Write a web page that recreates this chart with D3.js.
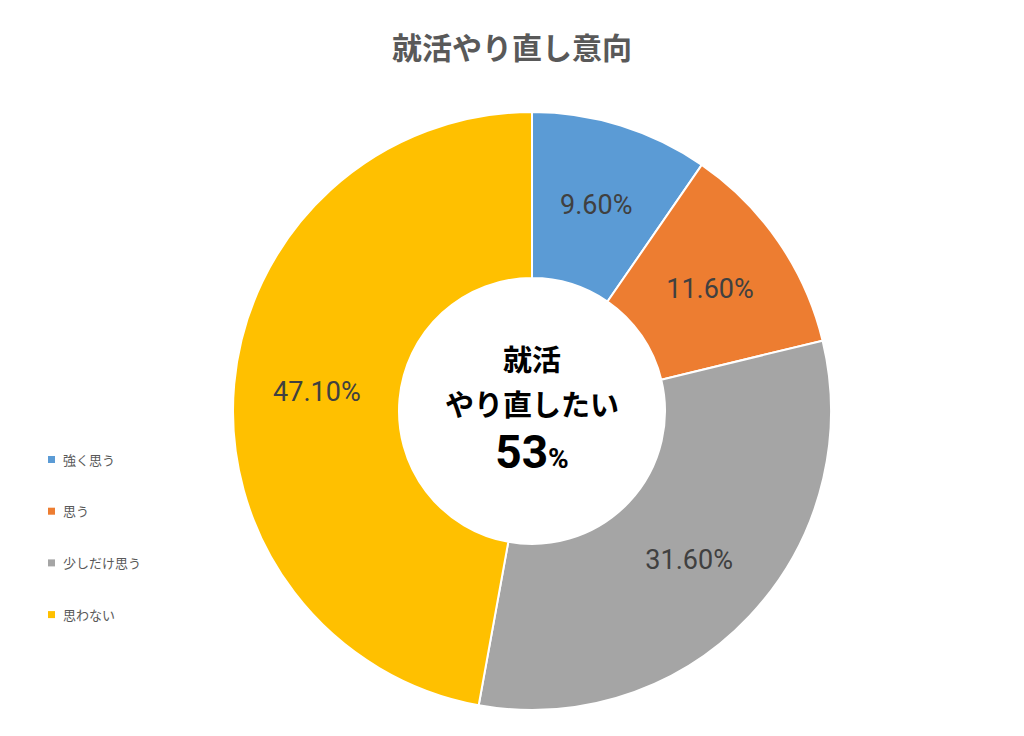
<!DOCTYPE html>
<html><head><meta charset="utf-8">
<script src="https://cdn.jsdelivr.net/npm/d3@7"></script>
<style>body{margin:0;background:#fff}svg{display:block;font-family:"Noto Sans CJK JP","Noto Sans",sans-serif}</style>
</head><body>
<svg id="c" width="1024" height="736"></svg>
<script>
const categories = ["強く思う","思う","少しだけ思う","思わない"];
const values = [9.6, 11.6, 31.6, 47.1];
const valueLabels = ["9.60%","11.60%","31.60%","47.10%"];
const colors = ["#5B9BD5","#ED7D31","#A5A5A5","#FFC000"];
const title = "就活やり直し意向";
const centerLines = ["就活","やり直したい"];
const centerValue = "53";

const svg = d3.select("#c");
const cx = 532, cy = 411, R = 299, r = 133;
svg.append("text").attr("x",512).attr("y",59).attr("text-anchor","middle")
  .attr("font-size",30).attr("font-weight","bold").attr("fill","#595959").text(title);

const pie = d3.pie().sort(null).value(d=>d)(values);
const arc = d3.arc().innerRadius(r).outerRadius(R);
const g = svg.append("g").attr("transform",`translate(${cx},${cy})`);
g.selectAll("path").data(pie).join("path").attr("d",arc)
  .attr("fill",(d,i)=>colors[i]).attr("stroke","#fff").attr("stroke-width",2);
const lab = d3.arc().innerRadius((r+R)/2).outerRadius((r+R)/2);
g.selectAll("text.l").data(pie).join("text").attr("class","l")
  .attr("transform",d=>`translate(${lab.centroid(d)})`)
  .attr("text-anchor","middle").attr("dy","0.35em")
  .attr("font-size",27).attr("fill","#404040").attr("font-family","Roboto,'Noto Sans',sans-serif")
  .text((d,i)=>valueLabels[i]);

g.append("text").attr("y",-40).attr("text-anchor","middle").attr("font-size",29).attr("font-weight","bold").attr("fill","#000").text(centerLines[0]);
g.append("text").attr("y",5).attr("text-anchor","middle").attr("font-size",29).attr("font-weight","bold").attr("fill","#000").text(centerLines[1]);
const t = g.append("text").attr("y",57).attr("text-anchor","middle").attr("font-weight","bold").attr("fill","#000").attr("font-family","Roboto,'Noto Sans',sans-serif");
t.append("tspan").attr("font-size",46).text(centerValue);
t.append("tspan").attr("font-size",28).text("%");

const lg = svg.append("g");
categories.forEach((c,i)=>{
  const y = 460 + i*51.7;
  lg.append("rect").attr("x",48).attr("y",y-4).attr("width",7).attr("height",7).attr("fill",colors[i]);
  lg.append("text").attr("x",63).attr("y",y).attr("dy","0.35em").attr("font-size",13).attr("fill","#595959").text(c);
});
</script>
</body></html>
